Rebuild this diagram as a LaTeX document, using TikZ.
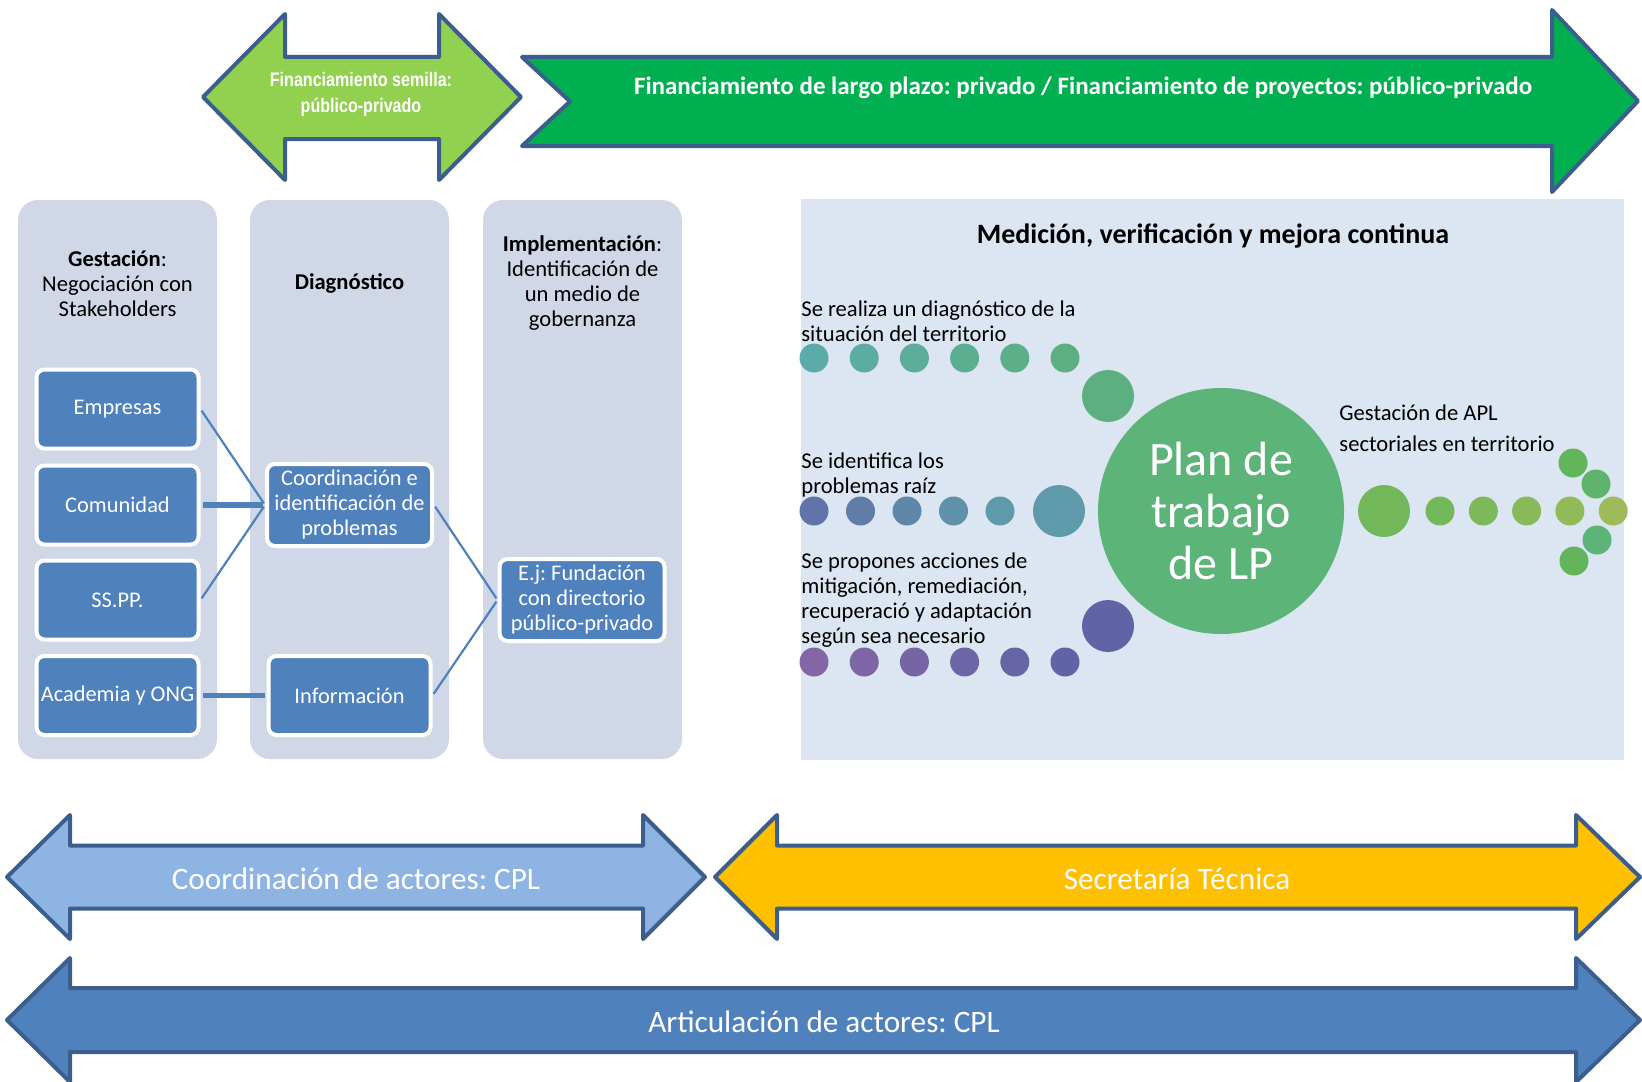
\documentclass[tikz,border=0pt]{standalone}
\usepackage{fontspec}
\setmainfont{Carlito}
\newfontfamily\narrowfont[FakeStretch=0.82]{Liberation Sans}
\usepackage{tikz}
\usepackage{xcolor}
\usetikzlibrary{positioning}
\frenchspacing

\definecolor{seedgreen}{HTML}{92D050}
\definecolor{longgreen}{HTML}{00B050}
\definecolor{bandline}{HTML}{3B5E8C}
\definecolor{coordblue}{HTML}{8EB4E3}
\definecolor{secyellow}{HTML}{FFC000}
\definecolor{boxblue}{HTML}{4F81BD}
\definecolor{stagebg}{HTML}{D0D8E8}
\definecolor{panelbg}{HTML}{DCE6F2}
\definecolor{planfill}{HTML}{5CB478}
\definecolor{dotA}{HTML}{5CABAB}
\definecolor{dotAend}{HTML}{5CB080}
\definecolor{dotB}{HTML}{6074AA}
\definecolor{dotBend}{HTML}{5E9AAA}
\definecolor{dotC}{HTML}{8466A6}
\definecolor{dotCend}{HTML}{6064A6}
\definecolor{dotD}{HTML}{72B85A}
\definecolor{dotDend}{HTML}{9EBB59}
\definecolor{dotE}{HTML}{62B55A}

\begin{document}
\begin{tikzpicture}[x=0.5pt, y=-0.5pt,
  stage/.style={fill=stagebg, rounded corners=10pt},
  actor/.style={fill=boxblue, draw=white, line width=2pt, rounded corners=4pt,
    minimum width=81pt, minimum height=39.5pt, inner sep=1pt, text=white,
    align=center, font=\fontsize{11.2}{12.5}\selectfont},
  link/.style={draw=boxblue, line width=1.1pt, shorten <=1pt, shorten >=1pt},
  thicklink/.style={link, line width=2.6pt},
  band/.style={draw=bandline, line width=2pt, line join=round},
  bandtext/.style={text=white, font=\fontsize{15.6}{17}\selectfont},
  head/.style={align=center, font=\fontsize{11.3}{12.5}\selectfont},
  note/.style={anchor=west, align=left, inner sep=0pt, font=\fontsize{11.3}{12.5}\selectfont}]
\useasboundingbox (0,0) rectangle (1642,1081);

% Seed funding
\draw[band, fill=seedgreen] (203,97) -- (285,14) -- (285,57) -- (439,57) -- (439,14)
  -- (521,97) -- (439,180) -- (439,139) -- (285,139) -- (285,180) -- cycle;
\node[text=white, align=center, font=\narrowfont\bfseries\fontsize{9.8}{13}\selectfont] (semilla) at (361,94) {Financiamiento semilla:\\público-privado};

% Long term funding
\draw[band, fill=longgreen] (522,57) -- (1552,57) -- (1552,10) -- (1638,101)
  -- (1552,192) -- (1552,146) -- (522,146) -- (570,101.5) -- cycle;
\node[text=white, font=\bfseries\fontsize{12.5}{14}\selectfont] (largo) at (1083,88) {Financiamiento de largo plazo: privado / Financiamiento de proyectos: público-privado};

% Stages
\fill[stage] (18,200) rectangle (217,759);
\fill[stage] (250,200) rectangle (449,759);
\fill[stage] (483,200) rectangle (682,759);
\node[head] (gesth) at (117.5,284) {\textbf{Gestación}:\\Negociación con\\Stakeholders};
\node[head, font=\bfseries\fontsize{11.3}{12.5}\selectfont] (diagh) at (349.5,283) {Diagnóstico};
\node[head] (implh) at (582.5,283) {\textbf{Implementación}:\\Identificación de\\un medio de\\gobernanza};

\node[actor] (empresas) at (117.5,409) {Empresas};
\node[actor] (comunidad) at (117.5,505) {Comunidad};
\node[actor] (sspp) at (117.5,600) {SS.PP.};
\node[actor] (academia) at (117.5,695.5) {Academia y ONG};
\node[actor, minimum width=82.5pt, minimum height=41pt] (coord) at (349.5,505) {Coordinación e\\identificación de\\problemas};
\node[actor] (info) at (349.5,695.5) {Información};
\node[actor, minimum width=82.5pt, minimum height=41pt] (fund) at (582,600) {E.j: Fundación\\con directorio\\público-privado};

\draw[link] (empresas.east) -- (coord.west);
\draw[thicklink] (comunidad.east) -- (coord.west);
\draw[link] (sspp.east) -- (coord.west);
\draw[thicklink] (academia.east) -- (info.west);
\draw[link] (coord.east) -- (fund.west);
\draw[link] (info.east) -- (fund.west);

% Measurement panel
\fill[panelbg] (801,199) rectangle (1624,760);
\node[font=\bfseries\fontsize{14}{16}\selectfont] (medh) at (1213,236) {Medición, verificación y mejora continua};

\foreach \i in {0,...,5} {
  \pgfmathsetmacro{\x}{814+50.2*\i}
  \pgfmathtruncatemacro{\p}{100-20*\i}
  \fill[dotA!\p!dotAend] (\x,358) circle (14.5);
  \fill[dotC!\p!dotCend] (\x,662) circle (14.5);
}
\fill[dotAend] (1108,396) circle (26);
\fill[dotCend] (1108,626) circle (26);
\foreach \i in {0,...,4} {
  \pgfmathsetmacro{\x}{814+46.5*\i}
  \pgfmathtruncatemacro{\p}{100-25*\i}
  \fill[dotB!\p!dotBend] (\x,511) circle (14.5);
}
\fill[dotBend] (1059,511) circle (26);

\node[circle, fill=planfill, minimum size=123pt, inner sep=0pt, text=white, align=center,
  font=\fontsize{24}{26}\selectfont] (plan) at (1221,511) {Plan de\\trabajo\\de LP};

\fill[dotD] (1384,511) circle (26);
\foreach \i in {0,...,4} {
  \pgfmathsetmacro{\x}{1440+43.3*\i}
  \pgfmathtruncatemacro{\p}{100-25*\i}
  \fill[dotD!\p!dotDend] (\x,511) circle (14.5);
}
\fill[dotE] (1573,463) circle (14.5);
\fill[planfill!60!dotE] (1596,484) circle (14.5);
\fill[planfill] (1597,540) circle (14.5);
\fill[dotE] (1574,561) circle (14.5);

\node[note] (diagn) at (801,321.5) {Se realiza un diagnóstico de la\\situación del territorio};
\node[note] (raiz) at (801,474.5) {Se identifica los\\problemas raíz};
\node[note] (acciones) at (801,600.5) {Se propones acciones de\\mitigación, remediación,\\recuperació y adaptación\\según sea necesario};
\node[note, font=\fontsize{11.3}{15.5}\selectfont] (apl) at (1339,428.5) {Gestación de APL\\sectoriales en territorio};

% Coordination of actors
\draw[band, fill=coordblue] (7,877) -- (70,815) -- (70,845.5) -- (643,845.5) -- (643,815)
  -- (705,877) -- (643,939) -- (643,908.5) -- (70,908.5) -- (70,939) -- cycle;
\node[bandtext] (coordl) at (356,879) {Coordinación de actores: CPL};

% Technical secretariat
\draw[band, fill=secyellow] (715,877) -- (777,815) -- (777,845.5) -- (1576,845.5) -- (1576,815)
  -- (1640,877) -- (1576,939) -- (1576,908.5) -- (777,908.5) -- (777,939) -- cycle;
\node[bandtext] (secl) at (1177,879) {Secretaría Técnica};

% Articulation of actors
\draw[band, fill=boxblue] (7,1020) -- (70,958) -- (70,988) -- (1576,988) -- (1576,958)
  -- (1640,1020) -- (1576,1082) -- (1576,1052) -- (70,1052) -- (70,1082) -- cycle;
\node[bandtext] (artl) at (824,1022) {Articulación de actores: CPL};
\end{tikzpicture}
\end{document}
